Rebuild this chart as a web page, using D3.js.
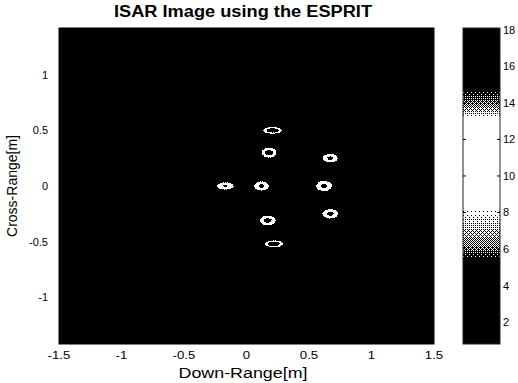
<!DOCTYPE html>
<html>
<head>
<meta charset="utf-8">
<script src="https://cdn.jsdelivr.net/npm/d3@7"></script>
<style>
  body { margin: 0; background: #fff; }
  svg { display: block; }
  text { font-family: "Liberation Sans", Arial, sans-serif; fill: #000; }
</style>
</head>
<body>
<div id="chart"></div>
<script>
// scatterer centres [m]
const downRange  = [0.21, 0.18, 0.67, -0.17, 0.12, 0.62, 0.67, 0.17, 0.22];
const crossRange = [0.50, 0.30, 0.25, 0.00, 0.00, 0.00, -0.25, -0.31, -0.52];
// peak level of each scatterer (colorbar units)
const peakLevel  = [18, 18, 18, 18, 18, 18, 18, 18, 18];
// half extent of each response [m] and the share of it that saturates
const halfDown   = [0.076, 0.060, 0.062, 0.068, 0.060, 0.064, 0.064, 0.066, 0.074];
const halfCross  = [0.031, 0.046, 0.039, 0.033, 0.042, 0.047, 0.043, 0.045, 0.031];
const coreShare  = [0.6, 0.48, 0.34, 0.2, 0.34, 0.34, 0.36, 0.43, 0.62];
const floorLevel = 1;

const xTicks = [-1.5, -1, -0.5, 0, 0.5, 1, 1.5];
const yTicks = [-1, -0.5, 0, 0.5, 1];
const cbTicks = [2, 4, 6, 8, 10, 12, 14, 16, 18];

const width = 518, height = 383;
const plot = { left: 59, right: 434, top: 28, bottom: 344 };
const bar = { left: 463, right: 500 };

const xScale = d3.scaleLinear().domain([-1.5, 1.5]).range([plot.left, plot.right]);
const yScale = d3.scaleLinear().domain([-1.42, 1.42]).range([plot.bottom, plot.top]);
const cScale = d3.scaleLinear().domain([0.8, 18.1]).range([plot.bottom, plot.top]);

// printed colormap: dark at both ends, white in the middle
const shade = d3.scaleLinear()
  .domain([5.5, 6.2, 8.3, 13.1, 13.8, 14.8])
  .range([0, 0.45, 1, 1, 0.5, 0])
  .clamp(true);

const bayer = [
  [0, 8, 2, 10],
  [12, 4, 14, 6],
  [3, 11, 1, 9],
  [15, 7, 13, 5]
];

function rasterise(w, h, valueAt) {
  const canvas = document.createElement('canvas');
  canvas.width = w;
  canvas.height = h;
  const ctx = canvas.getContext('2d');
  const img = ctx.createImageData(w, h);
  for (let j = 0; j < h; j++) {
    for (let i = 0; i < w; i++) {
      const g = shade(valueAt(i + 0.5, j + 0.5));
      const c = g > (bayer[j % 4][i % 4] + 0.5) / 16 ? 255 : 0;
      const k = (j * w + i) * 4;
      img.data[k] = c; img.data[k + 1] = c; img.data[k + 2] = c; img.data[k + 3] = 255;
    }
  }
  ctx.putImageData(img, 0, 0);
  return canvas.toDataURL();
}

// radial profile of one response, r = 1 at the visible edge
const profiles = coreShare.map((c, s) => d3.scaleLinear()
  .domain([0, c, c + 0.07, 0.92, 1, 1.3])
  .range([peakLevel[s], 14.8, 13.1, 8.3, 5.5, floorLevel])
  .clamp(true));

function imageValue(x, y) {
  let v = floorLevel;
  for (let s = 0; s < downRange.length; s++) {
    const dx = (x - downRange[s]) / halfDown[s];
    const dy = (y - crossRange[s]) / halfCross[s];
    const r = Math.sqrt(dx * dx + dy * dy);
    if (r < 1.3) v = Math.max(v, profiles[s](r));
  }
  return v;
}

function stretch(sel, k) {
  sel.each(function () {
    const len = this.getComputedTextLength();
    d3.select(this).attr('textLength', len * k).attr('lengthAdjust', 'spacingAndGlyphs');
  });
}

const svg = d3.select('#chart').append('svg')
  .attr('width', width)
  .attr('height', height);

// title
svg.append('text')
  .attr('x', 243)
  .attr('y', 17)
  .attr('text-anchor', 'middle')
  .attr('font-size', 16)
  .attr('font-weight', 'bold')
  .attr('textLength', 258)
  .attr('lengthAdjust', 'spacingAndGlyphs')
  .text('ISAR Image using the ESPRIT');

// image area
const pw = plot.right - plot.left, ph = plot.bottom - plot.top;
svg.append('image')
  .attr('x', plot.left)
  .attr('y', plot.top)
  .attr('width', pw)
  .attr('height', ph)
  .style('image-rendering', 'pixelated')
  .attr('href', rasterise(pw, ph, (i, j) =>
    imageValue(xScale.invert(plot.left + i), yScale.invert(plot.top + j))));

svg.append('rect')
  .attr('x', plot.left).attr('y', plot.top)
  .attr('width', pw).attr('height', ph)
  .attr('fill', 'none')
  .attr('stroke', '#000');

// x ticks
svg.append('g')
  .selectAll('text')
  .data(xTicks)
  .join('text')
  .attr('x', d => xScale(d))
  .attr('y', 359)
  .attr('text-anchor', 'middle')
  .attr('font-size', 11)
  .text(d => String(d))
  .call(stretch, 1.2);

// y ticks
svg.append('g')
  .selectAll('text')
  .data(yTicks)
  .join('text')
  .attr('x', 48)
  .attr('y', d => yScale(d) + 4)
  .attr('text-anchor', 'end')
  .attr('font-size', 11)
  .text(d => String(d));

// axis labels
svg.append('text')
  .attr('x', 243)
  .attr('y', 378)
  .attr('text-anchor', 'middle')
  .attr('font-size', 14)
  .attr('textLength', 129)
  .attr('lengthAdjust', 'spacingAndGlyphs')
  .text('Down-Range[m]');

svg.append('text')
  .attr('transform', `translate(17,${(plot.top + plot.bottom) / 2}) rotate(-90)`)
  .attr('text-anchor', 'middle')
  .attr('font-size', 14)
  .text('Cross-Range[m]');

// colorbar
const bw = bar.right - bar.left;
svg.append('image')
  .attr('x', bar.left)
  .attr('y', plot.top)
  .attr('width', bw)
  .attr('height', ph)
  .style('image-rendering', 'pixelated')
  .attr('href', rasterise(bw, ph, (i, j) => cScale.invert(plot.top + j)));

svg.append('rect')
  .attr('x', bar.left).attr('y', plot.top)
  .attr('width', bw).attr('height', ph)
  .attr('fill', 'none')
  .attr('stroke', '#222');

const cbG = svg.append('g');
cbG.selectAll('line.l')
  .data(cbTicks)
  .join('line')
  .attr('class', 'l')
  .attr('x1', bar.left).attr('x2', bar.left + 3)
  .attr('y1', d => cScale(d)).attr('y2', d => cScale(d))
  .attr('stroke', '#000');
cbG.selectAll('line.r')
  .data(cbTicks)
  .join('line')
  .attr('class', 'r')
  .attr('x1', bar.right - 3).attr('x2', bar.right)
  .attr('y1', d => cScale(d)).attr('y2', d => cScale(d))
  .attr('stroke', '#000');
cbG.selectAll('text')
  .data(cbTicks)
  .join('text')
  .attr('x', bar.right + 3)
  .attr('y', d => cScale(d) + 4)
  .attr('font-size', 11)
  .text(d => d);
</script>
</body>
</html>
